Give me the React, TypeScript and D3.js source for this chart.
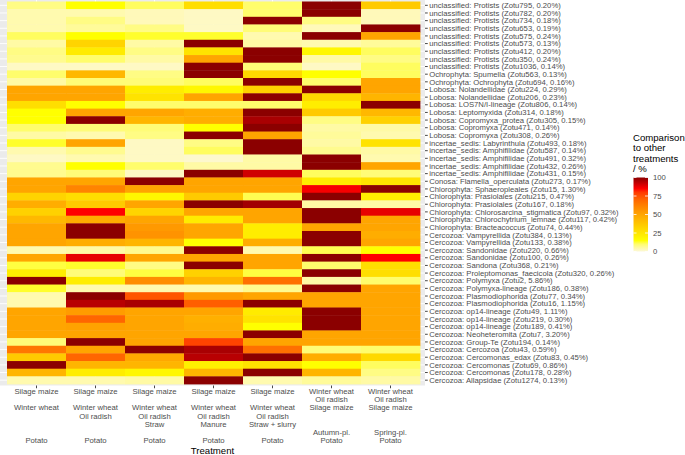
import React from "react";
import * as d3 from "d3";

const FONT = "'Liberation Sans', Arial, Helvetica, sans-serif";

const rowLabels = [
  "unclassified: Protists (Zotu795, 0.20%)",
  "unclassified: Protists (Zotu782, 0.20%)",
  "unclassified: Protists (Zotu734, 0.18%)",
  "unclassified: Protists (Zotu653, 0.19%)",
  "unclassified: Protists (Zotu575, 0.24%)",
  "unclassified: Protists (Zotu573, 0.13%)",
  "unclassified: Protists (Zotu412, 0.20%)",
  "unclassified: Protists (Zotu350, 0.24%)",
  "unclassified: Protists (Zotu1036, 0.14%)",
  "Ochrophyta: Spumella (Zotu563, 0.13%)",
  "Ochrophyta: Ochrophyta (Zotu694, 0.16%)",
  "Lobosa: Nolandellidae (Zotu224, 0.29%)",
  "Lobosa: Nolandellidae (Zotu206, 0.23%)",
  "Lobosa: LOS7N/I-lineage (Zotu806, 0.14%)",
  "Lobosa: Leptomyxida (Zotu314, 0.18%)",
  "Lobosa: Copromyxa_protea (Zotu305, 0.15%)",
  "Lobosa: Copromyxa (Zotu471, 0.14%)",
  "Lobosa: Copromyxa (Zotu308, 0.26%)",
  "incertae_sedis: Labyrinthula (Zotu493, 0.18%)",
  "incertae_sedis: Amphifilidae (Zotu587, 0.14%)",
  "incertae_sedis: Amphifilidae (Zotu491, 0.32%)",
  "incertae_sedis: Amphifilidae (Zotu432, 0.26%)",
  "incertae_sedis: Amphifilidae (Zotu431, 0.15%)",
  "Conosa: Flamella_operculata (Zotu273, 0.17%)",
  "Chlorophyta: Sphaeropleales (Zotu15, 1.30%)",
  "Chlorophyta: Prasiolales (Zotu215, 0.47%)",
  "Chlorophyta: Prasiolales (Zotu167, 0.18%)",
  "Chlorophyta: Chlorosarcina_stigmatica (Zotu97, 0.32%)",
  "Chlorophyta: Chlorochytrium_lemnae (Zotu117, 0.42%)",
  "Chlorophyta: Bracteacoccus (Zotu74, 0.44%)",
  "Cercozoa: Vampyrellida (Zotu384, 0.13%)",
  "Cercozoa: Vampyrellida (Zotu133, 0.38%)",
  "Cercozoa: Sandonidae (Zotu220, 0.66%)",
  "Cercozoa: Sandonidae (Zotu100, 0.26%)",
  "Cercozoa: Sandona (Zotu368, 0.21%)",
  "Cercozoa: Proleptomonas_faecicola (Zotu320, 0.26%)",
  "Cercozoa: Polymyxa (Zotu2, 5.86%)",
  "Cercozoa: Polymyxa-lineage (Zotu186, 0.38%)",
  "Cercozoa: Plasmodiophorida (Zotu77, 0.34%)",
  "Cercozoa: Plasmodiophorida (Zotu16, 1.15%)",
  "Cercozoa: op14-lineage (Zotu49, 1.11%)",
  "Cercozoa: op14-lineage (Zotu219, 0.30%)",
  "Cercozoa: op14-lineage (Zotu189, 0.41%)",
  "Cercozoa: Neoheteromita (Zotu7, 3.20%)",
  "Cercozoa: Group-Te (Zotu194, 0.14%)",
  "Cercozoa: Cercozoa (Zotu43, 0.59%)",
  "Cercozoa: Cercomonas_edax (Zotu83, 0.45%)",
  "Cercozoa: Cercomonas (Zotu69, 0.86%)",
  "Cercozoa: Cercomonas (Zotu178, 0.28%)",
  "Cercozoa: Allapsidae (Zotu1274, 0.13%)",
];

const treatmentLines = [
  ["Silage maize", "", "Winter wheat", "", "", "", "Potato"],
  ["Silage maize", "", "Winter wheat", "Oil radish", "", "", "Potato"],
  ["Silage maize", "", "Winter wheat", "Oil radish", "Straw", "", "Potato"],
  ["Silage maize", "", "Winter wheat", "Oil radish", "Manure", "", "Potato"],
  ["Silage maize", "", "Winter wheat", "Oil radish", "Straw + slurry", "", "Potato"],
  ["Winter wheat", "Oil radish", "Silage maize", "", "", "Autumn-pl.", "Potato"],
  ["Winter wheat", "Oil radish", "Silage maize", "", "", "Spring-pl.", "Potato"],
];

// values (% comparison to other treatments), one array per treatment, rows in label order
const vWW = [8,4,4,4,11,5,8,7,2,10,5,50,50,28,15,15,10,5,14,4,2,7,7,50,50,32,47,33,43,50,50,50,4,50,13,22,100,14,4,4,50,50,50,50,9,65,36,100,44,4];
const vWWOR = [15,4,8,6,15,32,23,10,2,43,9,50,50,15,50,100,9,4,50,7,4,15,9,50,61,28,36,85,47,100,100,47,5,88,14,9,22,4,100,94,53,70,51,50,100,50,70,44,22,4];
const vStraw = [11,3,3,8,14,5,8,5,2,8,9,22,26,10,50,44,9,8,2,2,2,10,2,100,50,18,50,32,50,54,56,44,7,50,8,13,58,4,74,96,50,50,50,50,50,100,49,44,18,5];
const vManure = [28,2,2,2,14,100,26,50,100,100,11,18,50,10,47,47,15,100,8,11,1,5,100,50,50,36,100,50,23,50,50,15,100,50,100,33,44,4,54,72,50,46,47,50,78,96,94,21,44,100];
const vSlurry = [10,10,100,9,4,5,100,100,9,30,100,33,100,10,100,96,100,50,100,100,5,5,91,50,50,12,97,50,50,22,22,47,4,50,50,13,67,7,50,100,23,26,15,100,50,67,100,26,100,4];
const vAutumn = [100,100,8,3,100,4,18,5,2,15,10,100,30,22,36,8,5,6,5,7,100,100,11,22,86,100,5,100,100,50,100,100,12,100,10,100,5,100,50,50,100,100,100,50,50,9,47,15,44,6];
const vSpring = [36,3,3,100,50,6,11,8,11,11,50,50,44,100,43,33,5,4,26,5,4,50,9,26,100,22,5,88,50,50,47,50,15,85,28,28,10,50,50,50,50,50,50,50,50,10,30,11,8,5];

const seriesValues = [vWW, vWWOR, vStraw, vManure, vSlurry, vAutumn, vSpring];

const legendBreaks = [0, 25, 50, 75, 100];
const colorStops = [0, 15, 50, 85, 100];
const colorRange = ["#FCF8D8", "#FFFF00", "#FFA500", "#FF0000", "#8B0000"];

export default function App() {
  const W = 685;
  const H = 455;
  const keys = treatmentLines.map((_, i) => "t" + i);
  const x = d3.scaleBand<string>().domain(keys).range([7, 420]).padding(0);
  const y = d3.scaleBand<string>().domain(rowLabels).range([1.5, 384]).padding(0);
  const color = d3
    .scaleLinear<string>()
    .domain(colorStops)
    .range(colorRange)
    .interpolate(d3.interpolateLab)
    .clamp(true);

  const panel = { x0: 0, x1: 425, y0: 0, y1: 385.5 };
  const legY = d3.scaleLinear().domain([0, 100]).range([251.5, 177.5]);
  const barX = 633.5;
  const barW = 14.5;

  const cells: { k: string; r: string; v: number }[] = [];
  seriesValues.forEach((arr, i) => {
    arr.forEach((v, j) => cells.push({ k: keys[i], r: rowLabels[j], v }));
  });

  const gradStops = d3.range(0, 101, 5);
  const axisText = "#4D4D4D";

  return (
    <svg
      width={W}
      height={H}
      style={{ position: "absolute", left: 0, top: 0, background: "#fff" }}
      fontFamily={FONT}
    >
      <defs>
        <linearGradient id="legGrad" x1="0" y1="1" x2="0" y2="0">
          {gradStops.map((s) => (
            <stop key={s} offset={`${s}%`} stopColor={color(s)} />
          ))}
        </linearGradient>
      </defs>
      <rect x={panel.x0} y={panel.y0} width={panel.x1 - panel.x0} height={panel.y1 - panel.y0} fill="#EBEBEB" />
      {rowLabels.map((r) => (
        <line
          key={"g" + r}
          x1={panel.x0}
          x2={panel.x1}
          y1={y(r)! + y.bandwidth() / 2}
          y2={y(r)! + y.bandwidth() / 2}
          stroke="#fff"
          strokeWidth={0.9}
        />
      ))}
      {keys.map((k) => (
        <line
          key={"gv" + k}
          x1={x(k)! + x.bandwidth() / 2}
          x2={x(k)! + x.bandwidth() / 2}
          y1={panel.y0}
          y2={panel.y1}
          stroke="#fff"
          strokeWidth={0.9}
        />
      ))}
      {cells.map((c, i) => (
        <rect
          key={i}
          x={x(c.k)!}
          y={y(c.r)!}
          width={x.bandwidth() + 0.4}
          height={y.bandwidth() + 0.4}
          fill={color(c.v)}
        />
      ))}
      {/* right y axis */}
      {rowLabels.map((r) => {
        const cy = y(r)! + y.bandwidth() / 2;
        return (
          <g key={"yl" + r}>
            <line x1={panel.x1} x2={panel.x1 + 2.75} y1={cy} y2={cy} stroke="#333333" strokeWidth={0.9} />
            <text x={panel.x1 + 4.2} y={cy} dy="0.35em" fontSize={7.7} fill={axisText}>
              {r}
            </text>
          </g>
        );
      })}
      {/* x axis */}
      {keys.map((k, i) => {
        const cx = x(k)! + x.bandwidth() / 2;
        return (
          <g key={"xl" + k}>
            <line x1={cx} x2={cx} y1={panel.y1} y2={panel.y1 + 2.75} stroke="#333333" strokeWidth={0.9} />
            {treatmentLines[i].map((t, li) =>
              t ? (
                <text
                  key={li}
                  x={cx}
                  y={391 + li * 8.3}
                  dy="0.35em"
                  textAnchor="middle"
                  fontSize={7.7}
                  fill={axisText}
                >
                  {t}
                </text>
              ) : null
            )}
          </g>
        );
      })}
      <text x={(panel.x0 + panel.x1) / 2} y={454} textAnchor="middle" fontSize={9.6} fill="#000">
        Treatment
      </text>
      {/* legend */}
      {["Comparison", "to other", "treatments", "/ %"].map((t, i) => (
        <text key={t} x={633} y={140.5 + i * 10.6} fontSize={9.6} fill="#000">
          {t}
        </text>
      ))}
      <rect x={barX} y={legY(100)} width={barW} height={legY(0) - legY(100)} fill="url(#legGrad)" />
      {legendBreaks.map((b) => (
        <g key={"lb" + b}>
          <line x1={barX} x2={barX + 3} y1={legY(b)} y2={legY(b)} stroke="#fff" strokeWidth={0.8} />
          <line x1={barX + barW - 3} x2={barX + barW} y1={legY(b)} y2={legY(b)} stroke="#fff" strokeWidth={0.8} />
          <text x={653} y={legY(b)} dy="0.35em" fontSize={7.7} fill={axisText}>
            {b}
          </text>
        </g>
      ))}
    </svg>
  );
}
